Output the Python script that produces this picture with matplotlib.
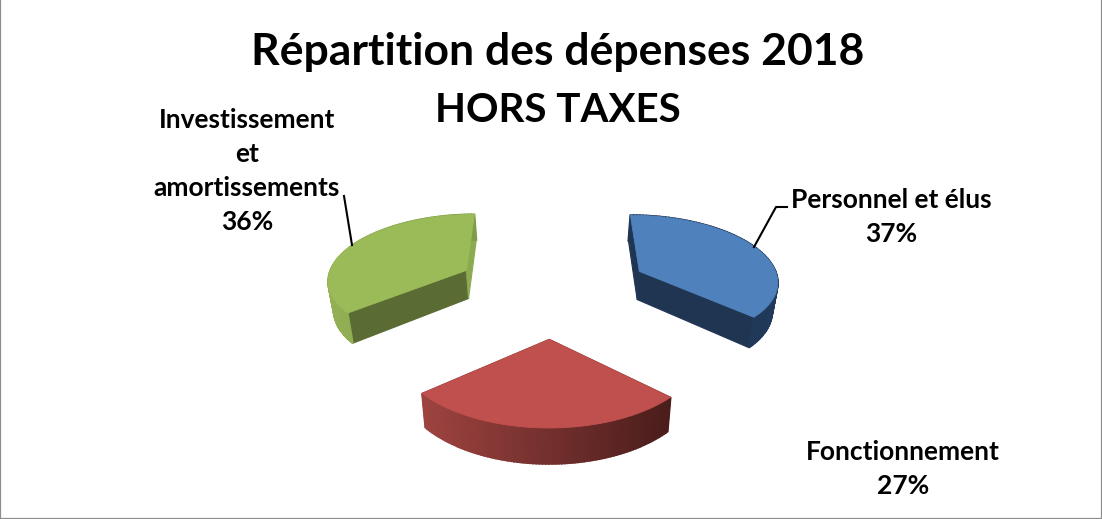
import numpy as np
import matplotlib
matplotlib.use("Agg")
import matplotlib.pyplot as plt
from matplotlib.colors import to_rgb
from matplotlib.lines import Line2D

title_lines = ["Répartition des dépenses 2018", "HORS TAXES"]
categories = ["Personnel et élus", "Fonctionnement", "Investissement\net\namortissements"]
values = [37, 27, 36]
top_colors = ["#4F81BD", "#C0504D", "#9BBB59"]
front_wall = ["#1F3552", "#6E2C2A", "#5A6B33"]
back_wall = ["#1F3552", "#6E2C2A", "#8CAB50"]
arc_from = ["#1F3552", "#9E4340", "#93B054"]
arc_to = ["#21395A", "#4A1D1B", "#7F9C48"]
label_pos = [(891, 216.5), (903, 468.5), (247, 170.5)]

CX, CY, RX, RY, PERSP, EXPLODE, ROT = 552.3, 289.3, 140.5, 66.2, 0.112, 0.697, -0.19
DEPTH, SHRINK = 29.0, 0.975

plt.rcParams['font.family'] = ['Lato', 'DejaVu Sans']
fig = plt.figure(figsize=(11.02, 5.19), dpi=100)
ax = fig.add_axes([0, 0, 1, 1])
ax.set_xlim(0, 1102)
ax.set_ylim(519, 0)
ax.set_xticks([])
ax.set_yticks([])
for side, sp in ax.spines.items():
    sp.set_color("#8C8C8C")
    sp.set_linewidth(1.6)
ax.spines['top'].set_visible(False)


def project(X, Y):
    s = 1 / (1 + PERSP * Y)
    return CX + RX * X * s, CY - RY * Y * s, s


def lower(px, py, s):
    return CX + (px - CX) * SHRINK, py + DEPTH * s


def mix(c0, c1, t):
    a, b = np.array(to_rgb(c0)), np.array(to_rgb(c1))
    return tuple(a + (b - a) * t)


sweep = np.array(values) / sum(values) * 360
starts = ROT + np.concatenate([[0], np.cumsum(sweep)[:-1]])

for i in range(len(values)):
    a0, a1 = np.radians(starts[i]), np.radians(starts[i] + sweep[i])
    mid = (a0 + a1) / 2
    ax0, ay0 = EXPLODE * np.sin(mid), EXPLODE * np.cos(mid)
    th = np.linspace(a0, a1, 90)
    px, py, ps = project(ax0 + np.sin(th), ay0 + np.cos(th))
    qx, qy = lower(px, py, ps)
    apx, apy, aps = project(ax0, ay0)
    abx, aby = lower(apx, apy, aps)

    # straight inner walls: the start edge faces the viewer on the green slice,
    # the end edge on the blue one
    start_col = front_wall[i] if i == 2 else back_wall[i]
    end_col = back_wall[i] if i == 2 else front_wall[i]
    ax.fill([px[0], apx, abx, qx[0]], [py[0], apy, aby, qy[0]], color=start_col, lw=0.8, zorder=2 + i * 3)
    ax.fill([px[-1], apx, abx, qx[-1]], [py[-1], apy, aby, qy[-1]], color=end_col, lw=0.8, zorder=2 + i * 3)
    # curved outer wall, shaded along the arc
    for j in range(len(th) - 1):
        t = (px[j] - px.min()) / (px.max() - px.min())
        col = mix(arc_from[i], arc_to[i], t)
        ax.fill([px[j], px[j + 1], qx[j + 1], qx[j]], [py[j], py[j + 1], qy[j + 1], qy[j]],
                color=col, lw=1.4, zorder=3 + i * 3)
    # top face
    ax.fill(np.r_[apx, px], np.r_[apy, py], color=top_colors[i], lw=0.6, zorder=4 + i * 3)

# leader lines
ax.add_line(Line2D([754, 776, 787], [247, 207, 207], color="black", lw=1.5, zorder=20))
ax.add_line(Line2D([352, 344], [245, 196], color="black", lw=1.5, zorder=20))

ax.text(558, 52, title_lines[0], ha='center', va='center', fontsize=32, fontweight='bold',
        color="black", zorder=21)
ax.text(558, 110, title_lines[1], ha='center', va='center', fontsize=29, fontweight='bold',
        color="black", zorder=21)
for name, val, (lx, ly) in zip(categories, values, label_pos):
    ax.text(lx, ly, f"{name}\n{val}%", ha='center', va='center', fontsize=19, fontweight='bold',
            linespacing=1.5, color="black", zorder=21)

fig.savefig('out.png', dpi=100)
